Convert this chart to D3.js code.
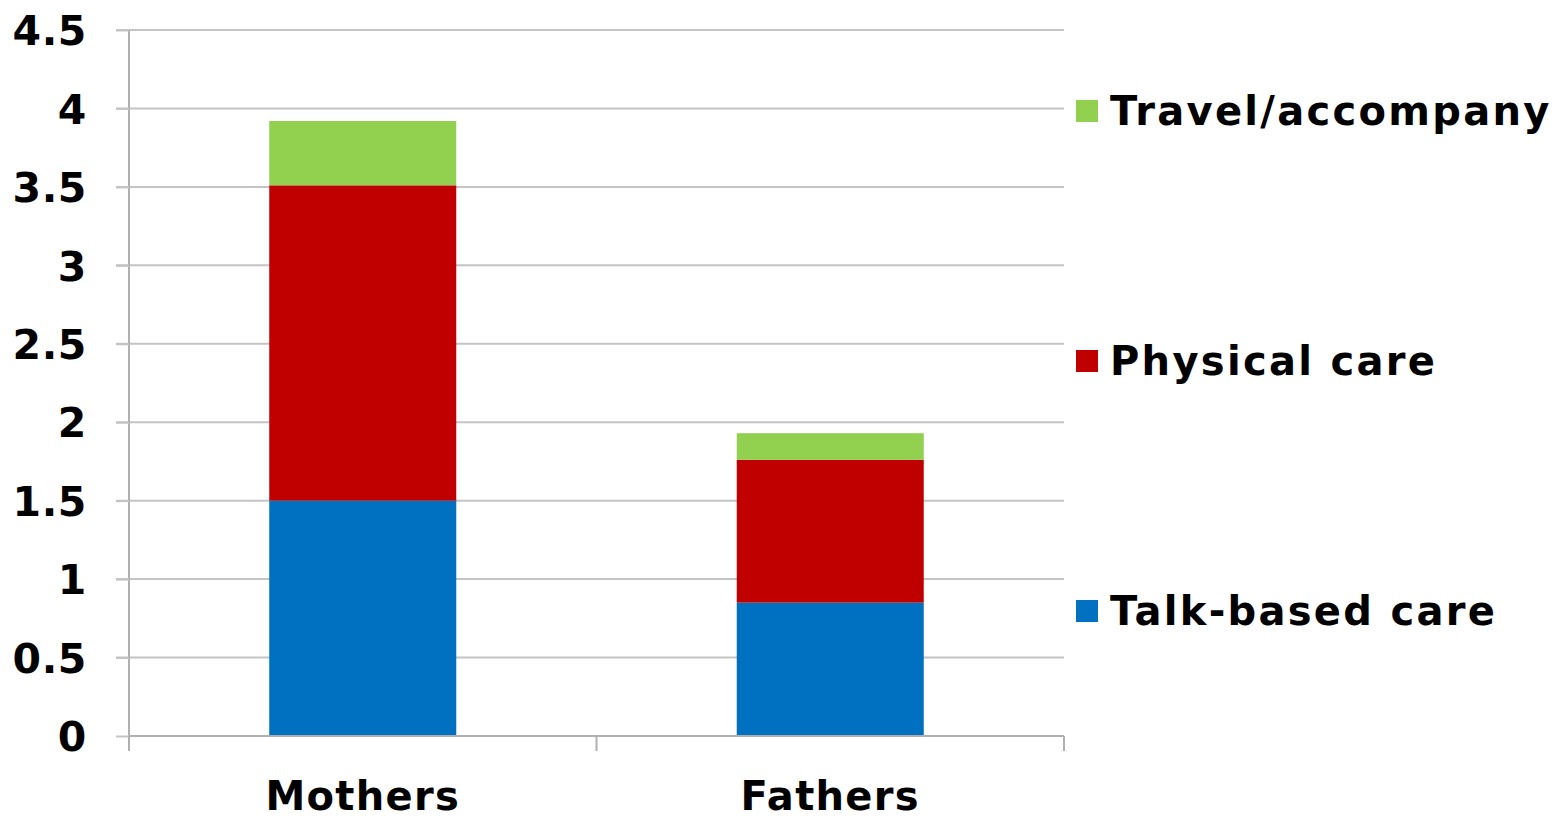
<!DOCTYPE html>
<html><head><meta charset="utf-8">
<script src="https://cdn.jsdelivr.net/npm/d3@7"></script>
<style>body{margin:0;background:#fff}svg{display:block}</style>
</head><body>
<svg id="c" width="1557" height="822"></svg>
<script>
const categories = ["Mothers", "Fathers"];
const seriesNames = ["Talk-based care", "Physical care", "Travel/accompany"];
const talkBased = [1.50, 0.85];
const physical = [2.01, 0.91];
const travel = [0.41, 0.17];
const yTicks = [0, 0.5, 1, 1.5, 2, 2.5, 3, 3.5, 4, 4.5];
const colors = ["#0070C0", "#C00000", "#92D050"];

(function(){
const svg = d3.select("#c");
const font = "'DejaVu Sans', Verdana, sans-serif";
const pLeft = 129, pRight = 1064, pTop = 30, pBottom = 736;

const x = d3.scaleBand().domain(categories).range([pLeft, pRight]).paddingInner(0.6).paddingOuter(0.3);
const y = d3.scaleLinear().domain([0, 4.5]).range([pBottom, pTop]);

svg.append("g").selectAll("line").data(yTicks.filter(d => d > 0)).join("line")
  .attr("x1", pLeft - 13).attr("x2", pRight).attr("y1", d => y(d)).attr("y2", d => y(d))
  .attr("stroke", "#c4c4c4").attr("stroke-width", 2);

const data = categories.map((c, i) => ({cat: c, "Talk-based care": talkBased[i], "Physical care": physical[i], "Travel/accompany": travel[i]}));
const stacked = d3.stack().keys(seriesNames)(data);

svg.append("g").selectAll("g").data(stacked).join("g").attr("fill", (d, i) => colors[i])
  .selectAll("rect").data(d => d).join("rect")
  .attr("x", d => x(d.data.cat)).attr("width", x.bandwidth())
  .attr("y", d => y(d[1])).attr("height", d => y(d[0]) - y(d[1]));

const ya = svg.append("g").attr("transform", `translate(${pLeft},0)`)
  .call(d3.axisLeft(y).tickValues(yTicks).tickFormat(d => String(d)).tickSize(13).tickPadding(29));
ya.select(".domain").attr("stroke", "#b0b0b0").attr("stroke-width", 2).attr("d", `M0,${pTop}V${pBottom+15}`);
ya.selectAll(".tick line").attr("stroke", "#c4c4c4").attr("stroke-width", 2);
ya.selectAll(".tick text").attr("font-family", font).attr("font-weight", "bold").attr("font-size", 41)
  .attr("letter-spacing", 0.6).attr("fill", "#000").attr("dy", "0.36em");

const xa = svg.append("g").attr("transform", `translate(0,${pBottom})`)
  .call(d3.axisBottom(x).tickSize(0).tickPadding(46));
xa.select(".domain").attr("stroke", "#b0b0b0").attr("stroke-width", 2).attr("d", `M${pLeft},0H${pRight}`);
xa.selectAll(".tick text").attr("font-family", font).attr("font-weight", "bold").attr("font-size", 40)
  .attr("letter-spacing", 1.3).attr("fill", "#000").attr("dy", "0.71em");
const seps = [pLeft, pLeft + (pRight-pLeft)/2, pRight];
xa.selectAll(".sep").data(seps).join("line").attr("class","sep")
  .attr("x1", d => d).attr("x2", d => d).attr("y1", 0).attr("y2", 15)
  .attr("stroke", "#b0b0b0").attr("stroke-width", 2);

const legendY = [611, 361, 111];
const lg = svg.append("g").selectAll("g").data(seriesNames).join("g")
  .attr("transform", (d, i) => `translate(1076,${legendY[i]})`);
lg.append("rect").attr("x", 0).attr("y", -11).attr("width", 22).attr("height", 22).attr("fill", (d, i) => colors[i]);
lg.append("text").attr("x", 34).attr("y", 0).attr("dy", "0.36em").text(d => d)
  .attr("font-family", font).attr("font-weight", "bold").attr("font-size", 40)
  .attr("letter-spacing", 2.3).attr("fill", "#000");
})();
</script>
</body></html>
